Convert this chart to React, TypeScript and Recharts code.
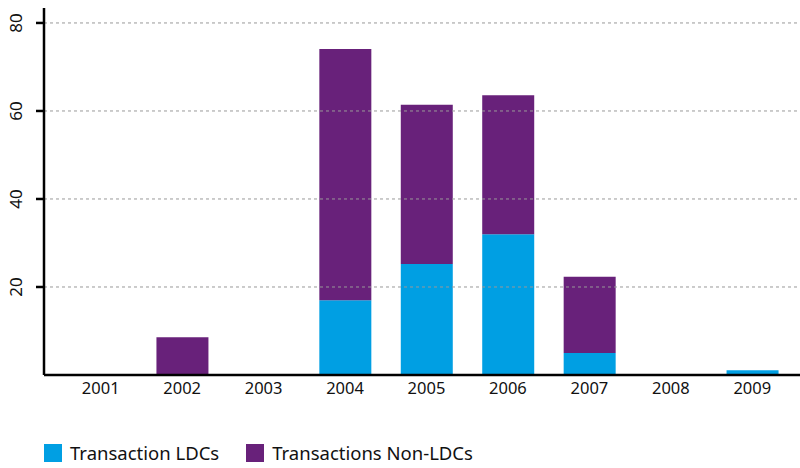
import { BarChart, Bar, XAxis, YAxis, ReferenceLine } from "recharts";

const years = ["2001", "2002", "2003", "2004", "2005", "2006", "2007", "2008", "2009"];
const ldcs = [0, 0, 0, 17.0, 25.2, 32.0, 5.0, 0, 1.1];
const nonLdcs = [0, 8.6, 0, 57.1, 36.2, 31.6, 17.3, 0, 0];
const yTicks = [20, 40, 60, 80];

const BLUE = "#009fe3";
const PURPLE = "#68217a";
const FONT = "'Noto Sans', 'Open Sans', sans-serif";

const data = years.map((year, i) => ({
  year,
  ldc: ldcs[i],
  nonLdc: nonLdcs[i],
}));

function YTick({ x, y, payload }: any) {
  return (
    <text
      x={x - 12}
      y={y}
      transform={`rotate(-90, ${x - 12}, ${y})`}
      textAnchor="middle"
      fontSize={17}
      fontFamily={FONT}
      fill="#111"
    >
      {payload.value}
    </text>
  );
}

export default function App() {
  return (
    <div style={{ position: "absolute", left: 0, top: 0, width: 800, height: 468 }}>
      <BarChart
        width={800}
        height={468}
        data={data}
        margin={{ top: 8, right: 0, bottom: 63, left: 0 }}
      >
        {yTicks.map((t) => (
          <ReferenceLine key={t} y={t} stroke="#999" strokeDasharray="3 3" />
        ))}
        <XAxis
          dataKey="year"
          height={30}
          padding={{ left: 16, right: 7 }}
          tickLine={false}
          axisLine={{ stroke: "#000", strokeWidth: 2.5 }}
          tick={{ fontSize: 16.5, fontFamily: FONT, fill: "#111" }}
          tickMargin={1}
        />
        <YAxis
          width={44}
          domain={[0, 83.4]}
          ticks={yTicks}
          allowDataOverflow
          axisLine={{ stroke: "#000", strokeWidth: 2.5 }}
          tickLine={{ stroke: "#000", strokeWidth: 2.5 }}
          tickSize={8}
          tick={<YTick />}
        />
        <Bar dataKey="ldc" stackId="a" fill={BLUE} barSize={52} isAnimationActive={false} />
        <Bar dataKey="nonLdc" stackId="a" fill={PURPLE} barSize={52} isAnimationActive={false} />
      </BarChart>
      <div
        style={{
          position: "absolute",
          left: 44,
          top: 440,
          display: "flex",
          alignItems: "center",
          fontFamily: FONT,
          fontSize: 18.5,
          color: "#111",
        }}
      >
        <span style={{ width: 18, height: 18, background: BLUE, display: "inline-block", marginRight: 8 }} />
        <span style={{ marginRight: 27 }}>Transaction LDCs</span>
        <span style={{ width: 18, height: 18, background: PURPLE, display: "inline-block", marginRight: 8 }} />
        <span>Transactions Non-LDCs</span>
      </div>
    </div>
  );
}
